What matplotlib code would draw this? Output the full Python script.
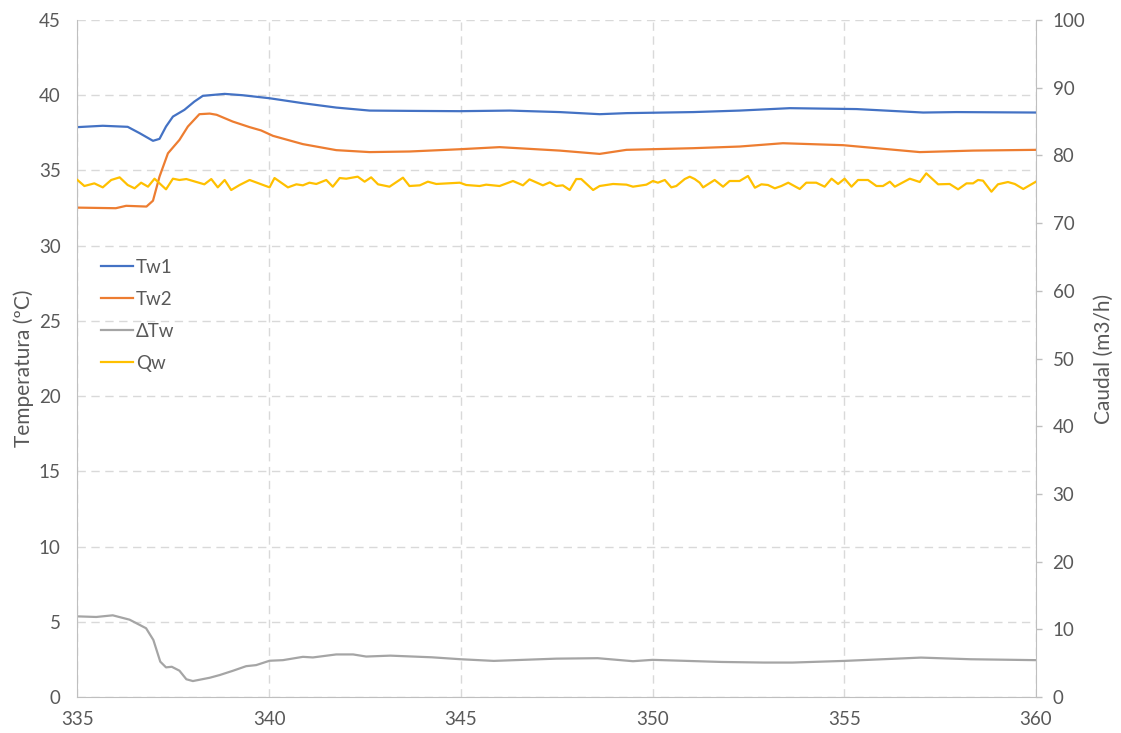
import matplotlib
matplotlib.use("Agg")
import matplotlib.pyplot as plt

# time (min) and values
t_tw1 = [335.00, 335.66, 336.31, 336.62, 336.97, 337.14, 337.31, 337.49, 337.79, 338.05,
         338.27, 338.84, 339.31, 340.01, 340.88, 341.75, 342.62, 343.66, 344.97, 346.27,
         347.58, 348.62, 349.32, 351.06, 352.27, 353.58, 355.32, 357.06, 357.93, 360.00]
tw1 = [37.88, 37.97, 37.90, 37.48, 36.97, 37.10, 37.92, 38.58, 39.03, 39.58,
       39.96, 40.09, 40.00, 39.80, 39.47, 39.18, 38.98, 38.96, 38.94, 38.98,
       38.88, 38.74, 38.81, 38.88, 38.98, 39.14, 39.08, 38.85, 38.88, 38.85]

t_tw2 = [335.00, 336.00, 336.27, 336.80, 336.97, 337.14, 337.36, 337.66, 337.88, 338.18,
         338.45, 338.63, 339.05, 339.49, 339.79, 340.10, 340.88, 341.75, 342.62, 343.66,
         344.97, 346.01, 347.58, 348.62, 349.32, 351.06, 352.27, 353.40, 354.97, 356.97,
         358.36, 360.00]
tw2 = [32.53, 32.49, 32.65, 32.60, 32.99, 34.59, 36.14, 37.03, 37.92, 38.74,
       38.78, 38.70, 38.25, 37.88, 37.66, 37.30, 36.75, 36.35, 36.22, 36.26,
       36.41, 36.55, 36.32, 36.10, 36.37, 36.48, 36.59, 36.81, 36.68, 36.22,
       36.32, 36.37]

t_dtw = [335.00, 335.49, 335.92, 336.36, 336.79, 336.98, 337.16, 337.31, 337.46, 337.66,
         337.84, 338.01, 338.45, 338.71, 339.05, 339.40, 339.66, 340.01, 340.36, 340.88,
         341.14, 341.75, 342.19, 342.53, 343.16, 344.24, 345.00, 345.86, 347.49, 348.57,
         349.49, 350.00, 351.80, 352.90, 353.65, 355.00, 357.00, 358.30, 360.00]
dtw = [5.36, 5.32, 5.43, 5.14, 4.57, 3.79, 2.35, 1.97, 2.01, 1.75,
       1.18, 1.06, 1.28, 1.46, 1.74, 2.05, 2.12, 2.41, 2.45, 2.67,
       2.63, 2.83, 2.83, 2.69, 2.75, 2.64, 2.51, 2.40, 2.55, 2.58,
       2.38, 2.47, 2.33, 2.29, 2.29, 2.40, 2.62, 2.51, 2.45]

t_qw = [335.00, 335.18, 335.44, 335.66, 335.88, 336.10, 336.31, 336.49, 336.66, 336.84,
        337.01, 337.31, 337.49, 337.66, 337.84, 338.31, 338.49, 338.66, 338.84, 339.01,
        339.23, 339.49, 340.01, 340.14, 340.49, 340.71, 340.88, 341.05, 341.23, 341.49,
        341.66, 341.84, 342.01, 342.31, 342.49, 342.66, 342.84, 343.14, 343.49, 343.66,
        343.93, 344.14, 344.36, 344.97, 345.14, 345.49, 345.66, 346.01, 346.36, 346.62,
        346.79, 347.14, 347.32, 347.49, 347.66, 347.84, 348.01, 348.14, 348.45, 348.62,
        348.97, 349.32, 349.49, 349.84, 350.01, 350.14, 350.32, 350.49, 350.62, 350.84,
        350.97, 351.10, 351.23, 351.32, 351.62, 351.84, 352.01, 352.27, 352.49, 352.67,
        352.84, 353.01, 353.19, 353.36, 353.54, 353.84, 354.01, 354.27, 354.49, 354.67,
        354.84, 355.01, 355.19, 355.36, 355.62, 355.84, 356.01, 356.19, 356.32, 356.71,
        356.97, 357.14, 357.45, 357.75, 357.97, 358.19, 358.36, 358.49, 358.62, 358.84,
        359.01, 359.27, 359.45, 359.67, 360.00]
qw = [76.37, 75.48, 75.87, 75.28, 76.37, 76.76, 75.63, 75.14, 75.97, 75.38,
      76.56, 74.99, 76.56, 76.37, 76.51, 75.73, 76.51, 75.28, 76.37, 74.89,
      75.63, 76.37, 75.28, 76.66, 75.28, 75.73, 75.58, 75.97, 75.78, 76.37,
      75.38, 76.66, 76.56, 76.86, 76.12, 76.76, 75.73, 75.38, 76.71, 75.48,
      75.58, 76.12, 75.78, 75.97, 75.63, 75.48, 75.68, 75.48, 76.22, 75.58,
      76.46, 75.58, 76.02, 75.48, 75.58, 74.89, 76.51, 76.51, 74.89, 75.48,
      75.78, 75.68, 75.38, 75.68, 76.22, 75.97, 76.37, 75.28, 75.48, 76.51,
      76.86, 76.51, 75.97, 75.28, 76.37, 75.38, 76.22, 76.22, 76.96, 75.23,
      75.73, 75.63, 75.14, 75.48, 75.97, 75.04, 75.97, 75.97, 75.38, 76.56,
      75.78, 76.56, 75.38, 76.37, 76.37, 75.48, 75.48, 76.12, 75.38, 76.56,
      76.07, 77.35, 75.73, 75.78, 74.99, 75.87, 75.87, 76.37, 76.27, 74.64,
      75.73, 76.07, 75.78, 75.04, 76.12]

x_ticks = [335, 340, 345, 350, 355, 360]
left_ticks = [0, 5, 10, 15, 20, 25, 30, 35, 40, 45]
right_ticks = [0, 10, 20, 30, 40, 50, 60, 70, 80, 90, 100]

txt = '#595959'
spine_c = '#bfbfbf'
grid_c = '#d9d9d9'

plt.rcParams['font.family'] = ['Lato', 'DejaVu Sans']
plt.rcParams['font.size'] = 13

fig = plt.figure(figsize=(11.21, 7.33), dpi=100)
ax = fig.add_axes([0.0691, 0.0491, 0.855, 0.9236])
ax2 = ax.twinx()

l1, = ax.plot(t_tw1, tw1, color='#4472C4', lw=1.6, label='Tw1')
l2, = ax.plot(t_tw2, tw2, color='#ED7D31', lw=1.6, label='Tw2')
l3, = ax.plot(t_dtw, dtw, color='#A5A5A5', lw=1.6, label='ΔTw')
l4, = ax2.plot(t_qw, qw, color='#FFC000', lw=1.6, label='Qw')

ax.set_xlim(335, 360)
ax.set_ylim(0, 45)
ax2.set_ylim(0, 100)
ax.set_xticks(x_ticks)
ax.set_yticks(left_ticks)
ax2.set_yticks(right_ticks)

ax.grid(True, color=grid_c, linestyle=(0, (6, 4)), linewidth=1)
ax.set_axisbelow(True)

for s in ['top', 'right']:
    ax.spines[s].set_visible(False)
for s in ['top', 'left', 'bottom']:
    ax2.spines[s].set_visible(False)
ax.spines['left'].set_color(spine_c)
ax.spines['bottom'].set_color(spine_c)
ax2.spines['right'].set_color(spine_c)

ax.tick_params(axis='x', length=0, pad=10, colors=txt, labelsize=13.5)
ax.tick_params(axis='y', length=0, pad=12, colors=txt, labelsize=13.5)
ax2.tick_params(axis='y', length=4, width=1, color=spine_c, pad=8, labelcolor=txt, labelsize=13.5)

ax.set_ylabel('Temperatura (ºC)', color=txt, fontsize=15)
ax.yaxis.set_label_coords(-0.045, 0.485)
ax2.set_ylabel('Caudal (m3/h)', color=txt, fontsize=15)
ax2.yaxis.set_label_coords(1.06, 0.5)

leg = ax.legend(handles=[l1, l2, l3, l4], loc='upper left', bbox_to_anchor=(0.025, 0.647),
                frameon=False, handlelength=1.7, handletextpad=0.15, labelspacing=0.8,
                borderaxespad=0, borderpad=0, fontsize=13.5)
for t in leg.get_texts():
    t.set_color(txt)

fig.savefig('out.png', dpi=100)
